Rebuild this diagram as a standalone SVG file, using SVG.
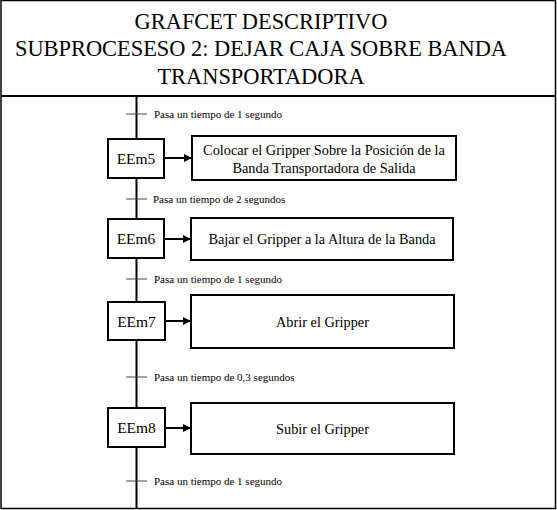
<svg xmlns="http://www.w3.org/2000/svg" width="557" height="510" viewBox="0 0 557 510">
<style>
.box{fill:#fff;stroke:#000;stroke-width:2}
.t{font-family:"Liberation Serif","Times New Roman",serif;fill:#000}
.title{font-size:22.4px;text-anchor:middle}
.step{font-size:15.5px;text-anchor:middle}
.act{font-size:14.3px;text-anchor:middle}
.tr{font-size:11px}
.tick{stroke:#444;stroke-width:1}
.link{stroke:#000;stroke-width:2;fill:none}
</style>
<defs>
<marker id="ah" markerWidth="8" markerHeight="8" refX="7" refY="4" orient="auto" markerUnits="userSpaceOnUse">
<path d="M0,0 L8,4 L0,8 Z" fill="#000"/>
</marker>
</defs>
<rect x="0" y="0" width="557" height="510" fill="#fff"/>
<g id="frame">
<rect x="1" y="0.5" width="554.5" height="508" fill="none" stroke="#000" stroke-width="1.5"/>
<line x1="1" y1="96" x2="556" y2="96" stroke="#000" stroke-width="2"/>
</g>
<g id="title">
<text class="t title" x="261" y="28.5">GRAFCET DESCRIPTIVO</text>
<text class="t title" x="261" y="56">SUBPROCESESO 2: DEJAR CAJA SOBRE BANDA</text>
<text class="t title" x="261" y="83.5">TRANSPORTADORA</text>
</g>
<g id="connectors">
<line class="link" x1="136.5" y1="96" x2="136.5" y2="509"/>
<line class="tick" x1="126" y1="114" x2="147" y2="114"/>
<line class="tick" x1="126" y1="199" x2="147" y2="199"/>
<line class="tick" x1="126" y1="279" x2="147" y2="279"/>
<line class="tick" x1="126" y1="377" x2="147" y2="377"/>
<line class="tick" x1="126" y1="481" x2="147" y2="481"/>
<line class="link" x1="164" y1="158" x2="191" y2="158" marker-end="url(#ah)"/>
<line class="link" x1="164" y1="239" x2="190" y2="239" marker-end="url(#ah)"/>
<line class="link" x1="165" y1="321" x2="190" y2="321" marker-end="url(#ah)"/>
<line class="link" x1="165" y1="428" x2="190" y2="428" marker-end="url(#ah)"/>
</g>
<g id="transitions">
<text class="t tr" x="154" y="118">Pasa un tiempo de 1 segundo</text>
<text class="t tr" x="153" y="203">Pasa un tiempo de 2 segundos</text>
<text class="t tr" x="154" y="283">Pasa un tiempo de 1 segundo</text>
<text class="t tr" x="154" y="381">Pasa un tiempo de 0,3 segundos</text>
<text class="t tr" x="154" y="485">Pasa un tiempo de 1 segundo</text>
</g>
<g id="EEm5">
<rect class="box" x="108" y="139" width="56" height="39"/>
<text class="t step" x="136" y="164">EEm5</text>
</g>
<g id="A5">
<rect class="box" x="192" y="136" width="264" height="44"/>
<text class="t act" x="324" y="155">Colocar el Gripper Sobre la Posición de la</text>
<text class="t act" x="324" y="173">Banda Transportadora de Salida</text>
</g>
<g id="EEm6">
<rect class="box" x="108" y="219" width="56" height="39"/>
<text class="t step" x="136" y="244">EEm6</text>
</g>
<g id="A6">
<rect class="box" x="191" y="218" width="262" height="42"/>
<text class="t act" x="322" y="244">Bajar el Gripper a la Altura de la Banda</text>
</g>
<g id="EEm7">
<rect class="box" x="108" y="302" width="57" height="38"/>
<text class="t step" x="136.5" y="326.5">EEm7</text>
</g>
<g id="A7">
<rect class="box" x="191" y="295" width="263" height="53"/>
<text class="t act" x="322.5" y="326.5">Abrir el Gripper</text>
</g>
<g id="EEm8">
<rect class="box" x="108" y="408" width="57" height="39"/>
<text class="t step" x="136.5" y="433">EEm8</text>
</g>
<g id="A8">
<rect class="box" x="191" y="403" width="263" height="51"/>
<text class="t act" x="322.5" y="433.5">Subir el Gripper</text>
</g>
</svg>
